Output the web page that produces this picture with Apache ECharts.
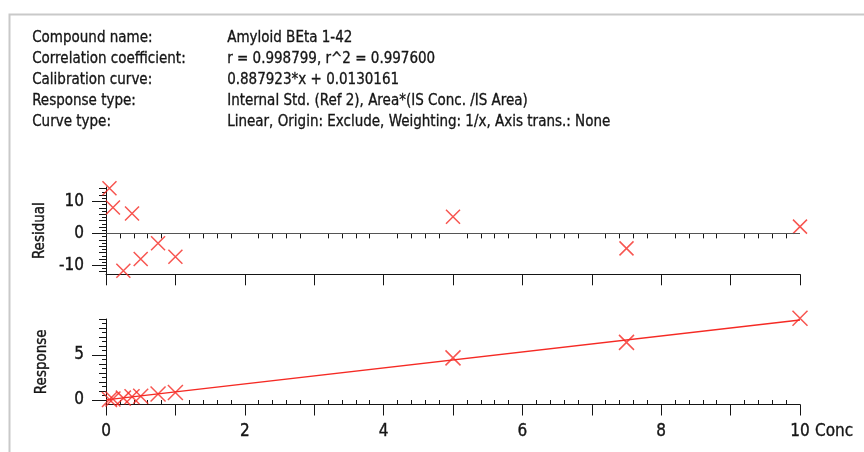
<!DOCTYPE html>
<html>
<head>
<meta charset="utf-8">
<script src="https://cdn.jsdelivr.net/npm/echarts@6/dist/echarts.min.js"></script>
<style>
  html, body { margin: 0; padding: 0; background: #fff; }
  #chart { width: 864px; height: 452px; }
</style>
</head>
<body>
<div id="chart"></div>
<script>
// Header block
const headerLabels = ['Compound name:', 'Correlation coefficient:', 'Calibration curve:', 'Response type:', 'Curve type:'];
const headerValues = [
  'Amyloid BEta 1-42',
  'r = 0.998799, r^2 = 0.997600',
  '0.887923*x + 0.0130161',
  'Internal Std. (Ref 2), Area*(IS Conc. /IS Area)',
  'Linear, Origin: Exclude, Weighting: 1/x, Axis trans.: None'
];

// Calibration standards
const concentrations = [0.05, 0.1, 0.25, 0.375, 0.5, 0.75, 1, 5, 7.5, 10];
const residuals      = [14.1, 8.1, -11.7, 6.2, -8.0, -3.1, -7.3, 5.2, -4.7, 2.1];
const responses      = [0.064, 0.109, 0.209, 0.367, 0.42, 0.658, 0.836, 4.68, 6.40, 9.08];

// Regression line (from the calibration curve)
const fitSlope = 0.887923;
const fitIntercept = 0.0130161;
const fitRange = [0, 10];

// Tick values
const xLabelTicks = [0, 2, 4, 6, 8, 10];
const xMajorTicks = [0, 1, 2, 3, 4, 5, 6, 7, 8, 9, 10];
const xMinorTicks = [0.2, 0.4, 0.6, 0.8, 1.2, 1.4, 1.6, 1.8, 2.2, 2.4, 2.6, 2.8, 3.2, 3.4, 3.6, 3.8,
  4.2, 4.4, 4.6, 4.8, 5.2, 5.4, 5.6, 5.8, 6.2, 6.4, 6.6, 6.8, 7.2, 7.4, 7.6, 7.8,
  8.2, 8.4, 8.6, 8.8, 9.2, 9.4, 9.6, 9.8];
const residualLabelTicks = [-10, 0, 10];
const residualMidTicks = [-12, -8, -6, -4, -2, 2, 4, 6, 8, 12, 14];
const residualMinorTicks = [-11, -9, -7, -5, -3, -1, 1, 3, 5, 7, 9, 11, 13];
const responseLabelTicks = [0, 5];
const responseMidTicks = [1, 2, 3, 4, 6, 7, 8, 9];
const responseMinorTicks = [0.5, 1.5, 2.5, 3.5, 4.5, 5.5, 6.5, 7.5, 8.5];

const residualRange = [-12.8, 14.5];
const responseRange = [-0.5, 9.0];

const RED = '#f52a24';
const INK = '#151515';
const textFont = "'Liberation Sans Narrow', 'DejaVu Sans Condensed', 'Liberation Sans', sans-serif";
// thin outline gives the glyphs a slightly heavier weight
const textWeight = { textBorderColor: INK, textBorderWidth: 0.35 };

const crossSymbol = 'path://M0 0L10 10M10 0L0 10';

function pairs(xs, ys) {
  return xs.map((x, i) => [x, ys[i]]);
}

function xAxisPair(gridIndex, showLabels) {
  const base = {
    type: 'value', gridIndex, min: 0, max: 10, position: 'bottom',
    splitLine: { show: false }, minorTick: { show: false }
  };
  return [
    Object.assign({}, base, {
      axisLine: { show: true, onZero: false, lineStyle: { color: INK, width: 1 } },
      axisTick: { show: true, customValues: xMajorTicks, length: 11, lineStyle: { color: INK, width: 1 } },
      axisLabel: Object.assign({
        show: showLabels, customValues: xLabelTicks, margin: 19,
        color: INK, fontFamily: textFont, fontSize: 17
      }, textWeight),
      name: showLabels ? 'Conc' : '',
      nameLocation: 'end',
      nameGap: 15,
      nameTextStyle: Object.assign({
        color: INK, fontFamily: textFont, fontSize: 17,
        align: 'left', verticalAlign: 'top', padding: [19, 0, 0, 0]
      }, textWeight)
    }),
    Object.assign({}, base, {
      axisLine: { show: false },
      axisTick: { show: true, customValues: xMinorTicks, length: 5, lineStyle: { color: INK, width: 1 } },
      axisLabel: { show: false }
    })
  ];
}

function yAxisSet(gridIndex, range, labelTicks, midTicks, minorTicks, title) {
  const base = {
    type: 'value', gridIndex, min: range[0], max: range[1], position: 'left',
    splitLine: { show: false }, minorTick: { show: false }
  };
  return [
    Object.assign({}, base, {
      axisLine: { show: true, onZero: false, lineStyle: { color: INK, width: 1 } },
      axisTick: { show: true, customValues: labelTicks, length: 14, lineStyle: { color: INK, width: 1 } },
      axisLabel: Object.assign({
        show: true, customValues: labelTicks, margin: 22,
        color: INK, fontFamily: textFont, fontSize: 17
      }, textWeight),
      name: title,
      nameLocation: 'middle',
      nameRotate: 90,
      nameGap: 56,
      nameTextStyle: Object.assign({ color: INK, fontFamily: textFont, fontSize: 15 }, textWeight)
    }),
    Object.assign({}, base, {
      axisLine: { show: false },
      axisTick: { show: true, customValues: midTicks, length: 7, lineStyle: { color: INK, width: 1 } },
      axisLabel: { show: false }
    }),
    Object.assign({}, base, {
      axisLine: { show: false },
      axisTick: { show: true, customValues: minorTicks, length: 4, lineStyle: { color: INK, width: 1 } },
      axisLabel: { show: false }
    })
  ];
}

const headerGraphics = [];
headerLabels.forEach((t, i) => {
  const y = 39 + i * 21.2;
  [[32, t], [227, headerValues[i]]].forEach(([x, s]) => {
    headerGraphics.push({
      type: 'text', left: x, top: y - 9,
      style: { text: s, fill: INK, font: '15px ' + textFont, stroke: INK, lineWidth: 0.3 }
    });
  });
});

const chart = echarts.init(document.getElementById('chart'), null, { renderer: 'canvas' });

const crossStyle = { color: 'none', borderColor: RED, borderWidth: 1.5 };

chart.setOption({
  animation: false,
  backgroundColor: '#fff',
  textStyle: { fontFamily: textFont },
  graphic: [
    {
      type: 'rect', left: 7, top: 12, silent: true,
      shape: { width: 880, height: 460 },
      style: { fill: 'none', stroke: '#c9c9c9', lineWidth: 2 }
    }
  ].concat(headerGraphics),
  grid: [
    { left: 106, right: 64, top: 187, height: 87.3, outerBoundsMode: 'none', containLabel: false },
    { left: 106, right: 64, top: 319, height: 85.5, outerBoundsMode: 'none', containLabel: false }
  ],
  xAxis: xAxisPair(0, false).concat(xAxisPair(1, true)),
  yAxis: yAxisSet(0, residualRange, residualLabelTicks, residualMidTicks, residualMinorTicks, 'Residual')
    .concat(yAxisSet(1, responseRange, responseLabelTicks, responseMidTicks, responseMinorTicks, 'Response')),
  series: [
    {
      name: 'Residual', type: 'scatter', xAxisIndex: 0, yAxisIndex: 0,
      data: pairs(concentrations, residuals),
      symbol: crossSymbol, symbolSize: 14, clip: false,
      itemStyle: crossStyle,
      markLine: {
        silent: true, symbol: 'none', label: { show: false },
        lineStyle: { color: '#555', width: 1, type: 'solid' },
        data: [{ yAxis: 0 }]
      },
      z: 3
    },
    {
      name: 'Calibration', type: 'line', xAxisIndex: 2, yAxisIndex: 3,
      data: fitRange.map(x => [x, fitSlope * x + fitIntercept]),
      showSymbol: false, symbol: 'none',
      lineStyle: { color: RED, width: 1.4 },
      z: 2
    },
    {
      name: 'Response', type: 'scatter', xAxisIndex: 2, yAxisIndex: 3,
      data: pairs(concentrations, responses),
      symbol: crossSymbol, symbolSize: 15, clip: false,
      itemStyle: crossStyle,
      z: 3
    }
  ]
});
</script>
</body>
</html>
